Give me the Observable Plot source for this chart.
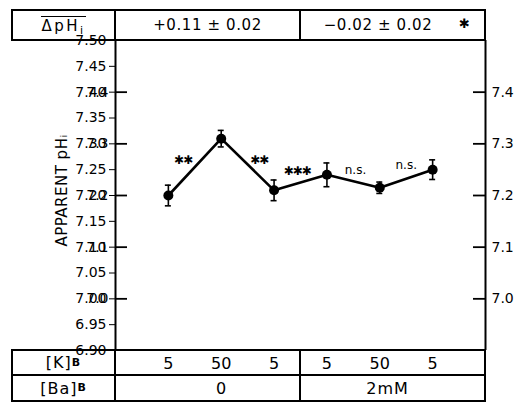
<!DOCTYPE html>
<html>
<head>
<meta charset="utf-8">
<script src="https://cdn.jsdelivr.net/npm/d3@7"></script>
<script src="https://cdn.jsdelivr.net/npm/@observablehq/plot@0.6"></script>
<style>
  html, body { margin: 0; padding: 0; background: #fff; }
  #fig { position: relative; width: 519px; height: 402px; font-family: "DejaVu Sans", sans-serif; color: #000; }
  #chart { position: absolute; left: 0; top: 0; }
  .cell { position: absolute; box-sizing: border-box; border: 2px solid #000; display: flex; align-items: center; justify-content: center; white-space: nowrap; pointer-events: none; }
  .hdr { font-size: 15px; letter-spacing: 0.6px; }
  .ov { border-top: 1.6px solid #000; padding-top: 1px; line-height: 16px; letter-spacing: 2.5px; }
  .lbl { font-size: 16px; letter-spacing: 1px; }
  sub { font-size: 11px; font-weight: bold; vertical-align: -4px; line-height: 0; }
  .star { position: absolute; font-size: 13px; }
</style>
</head>
<body>
<div id="fig">
  <div id="chart"></div>
</div>
<script>
// Conditions along the run, in order
const conditions = [1, 2, 3, 4, 5, 6];
const kB = ["5", "50", "5", "5", "50", "5"];          // [K]B, mM
const baB = ["0", "2mM"];                              // [Ba]B for each half
const pHi = [7.20, 7.31, 7.21, 7.24, 7.215, 7.25];     // mean apparent pHi
const sem = [0.02, 0.016, 0.02, 0.023, 0.011, 0.019];  // error bars
const deltaPHi = ["+0.11 ± 0.02", "−0.02 ± 0.02"];      // mean ΔpHi per half
const yTicks = [7.0, 7.1, 7.2, 7.3, 7.4];

// Significance between neighbouring conditions
const sigText = ["✱✱", "✱✱", "✱✱✱", "n.s.", "n.s."];
const sigX = [1.28, 2.72, 3.44, 4.54, 5.5];
const sigY = [7.268, 7.268, 7.247, 7.249, 7.258];

const rows = conditions.map((c, i) => ({i: c, v: pHi[i], e: sem[i]}));
const sig = sigText.map((t, i) => ({t, x: sigX[i], y: sigY[i], star: t.startsWith("✱")}));
const [xMin, xMax] = [0, conditions.length + 1];
const leftTicks = yTicks.map((v) => ({v, x: xMin}));
const rightTicks = yTicks.map((v) => ({v, x: xMax}));
const fmt = d3.format(".1f");

const chart = Plot.plot({
  width: 519,
  height: 402,
  marginTop: 40,
  marginBottom: 52,
  marginLeft: 115,
  marginRight: 34,
  style: {fontFamily: "DejaVu Sans, sans-serif", fontSize: "14px"},
  x: {domain: [xMin, xMax]},
  y: {domain: [6.9, 7.5]},
  marks: [
    // vertical axis lines at both ends of the x domain
    Plot.ruleX([xMin, xMax], {stroke: "black", strokeWidth: 2}),
    // inward tick marks
    Plot.ruleY(leftTicks, {x1: "x", x2: "x", y: "v", insetLeft: 0, insetRight: -12, stroke: "black", strokeWidth: 1.8}),
    Plot.ruleY(rightTicks, {x1: "x", x2: "x", y: "v", insetLeft: -12, insetRight: 0, stroke: "black", strokeWidth: 1.8}),
    // tick labels on both sides
    Plot.text(yTicks, {y: (d) => d, text: fmt, frameAnchor: "left", textAnchor: "end", dx: -7, fill: "black", fontSize: 14}),
    Plot.text(yTicks, {y: (d) => d, text: fmt, frameAnchor: "right", textAnchor: "start", dx: 6, fill: "black", fontSize: 14}),
    // [K]B row values under each condition
    Plot.axisX({anchor: "bottom", ticks: conditions, tickSize: 0, tickPadding: 7,
      tickFormat: (d) => kB[d - 1], label: null, fontSize: 16}),
    // error bars with caps
    Plot.ruleX(rows, {x: "i", y1: (d) => d.v - d.e, y2: (d) => d.v + d.e, strokeWidth: 1.6}),
    Plot.ruleY(rows, {x1: "i", x2: "i", y: (d) => d.v + d.e, insetLeft: -3, insetRight: -3, strokeWidth: 1.6}),
    Plot.ruleY(rows, {x1: "i", x2: "i", y: (d) => d.v - d.e, insetLeft: -3, insetRight: -3, strokeWidth: 1.6}),
    Plot.line(rows, {x: "i", y: "v", strokeWidth: 2.6}),
    Plot.dot(rows, {x: "i", y: "v", r: 5, fill: "black", stroke: null}),
    Plot.text(sig.filter((d) => d.star), {x: "x", y: "y", text: "t", fontSize: 12, fontWeight: "bold"}),
    Plot.text(sig.filter((d) => !d.star), {x: "x", y: "y", text: "t", fontSize: 12}),
    Plot.text(["APPARENT pHᵢ"], {frameAnchor: "left", textAnchor: "middle", rotate: -90, dx: -53, dy: -5, fontSize: 15})
  ]
});
chart.querySelectorAll("text").forEach((t) => {
  if (t.textContent === "APPARENT pHᵢ") t.setAttribute("letter-spacing", "0.5");
  if (t.textContent.startsWith("✱")) t.setAttribute("letter-spacing", "-1");
});
document.getElementById("chart").append(chart);

// Table rows above and below the plot
const fig = document.getElementById("fig");
function cell(x0, y0, x1, y1, html, cls = "", style = "") {
  const d = document.createElement("div");
  d.className = "cell " + cls;
  d.style.cssText = `left:${x0 - 1}px;top:${y0 - 1}px;width:${x1 - x0 + 2}px;height:${y1 - y0 + 2}px;${style}`;
  d.innerHTML = html;
  fig.append(d);
  return d;
}
cell(12, 10, 115, 40, `<span class="ov">ΔpH<sub style="font-weight:normal;font-size:11px;vertical-align:-3px">i</sub></span>`, "hdr");
cell(115, 10, 300, 40, deltaPHi[0], "hdr");
const c3 = cell(300, 10, 485, 40, deltaPHi[1], "hdr", "padding-right:29px");
const st = document.createElement("span");
st.className = "star";
st.textContent = "✱";
st.style.cssText = "left:158px;top:5px;";
c3.append(st);

cell(12, 350, 115, 375, `[K]<sub>B</sub>`, "lbl");
cell(115, 350, 300, 375, "");
cell(300, 350, 485, 375, "");
cell(12, 375, 115, 401, `[Ba]<sub>B</sub>`, "lbl");
cell(115, 375, 300, 401, baB[0], "lbl", "padding-left:28px");
cell(300, 375, 485, 401, baB[1], "lbl", "padding-right:10px");
</script>
</body>
</html>
